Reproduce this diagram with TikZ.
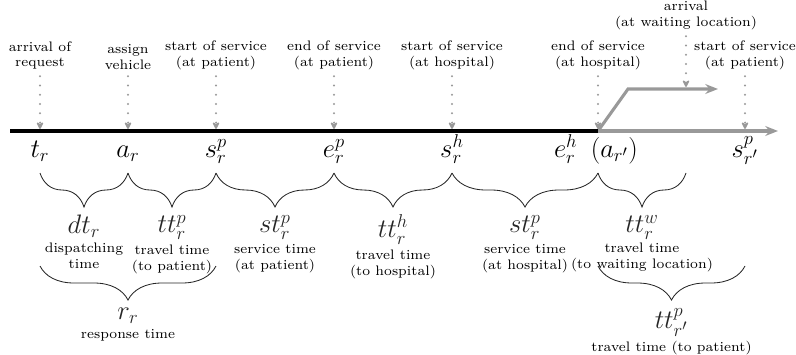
\documentclass[tikz,border=0pt]{standalone}
\usetikzlibrary{arrows.meta,decorations.pathreplacing,positioning}

\tikzset{
  evtext/.style={font=\scriptsize, scale=1.4, align=center, inner sep=1pt, anchor=south},
  evarrow/.style={black!40, line width=1.6pt, line cap=round, dash pattern=on 0pt off 6.6pt,
    -{Stealth[length=6pt,width=6pt,round]}, shorten <=3pt, shorten >=1.5pt},
  mlabel/.style={font=\LARGE, scale=1.1, inner sep=1pt},
  gline/.style={black!40, line width=2.2pt},
  brc/.style={decorate, decoration={brace, mirror, amplitude=0.85cm}, line width=0.6pt, black!85},
  dur/.style={mlabel, midway, below=1cm, anchor=north},
  desc/.style={font=\scriptsize, scale=1.4, align=center, inner sep=0.5pt},
}

\begin{document}
\begin{tikzpicture}[x=0.025cm, y=-0.025cm]
    \useasboundingbox (0,0) rectangle (796,355);
    % Points on the time line
    \coordinate (lstart) at (10,131);
    \coordinate (tr) at (40,131);
    \coordinate (ar) at (128,131);
    \coordinate (spr) at (216,131);
    \coordinate (epr) at (334,131);
    \coordinate (shr) at (452,131);
    \coordinate (ehr) at (598,131);
    \coordinate (spr2) at (745,131);
    \coordinate (lend) at (778,131);
    % Branch to the waiting location
    \coordinate (bend) at (628,89);
    \coordinate (wr) at (686,89);
    \coordinate (wend) at (718,89);

    % Time line
    \draw[gline, -{Stealth[length=9pt,width=7pt]}] (ehr) -- (lend);
    \draw[gline, -{Stealth[length=9pt,width=7pt]}] (ehr) -- (bend) -- (wend);
    \draw[line width=3pt] (lstart) -- (ehr);

    % Events
    \node[evtext] (arr) at (40,72) {arrival of\\request};
    \node[evtext] (asg) at (128,72) {assign\\vehicle};
    \node[evtext] (ssp) at (216,72) {start of service\\(at patient)};
    \node[evtext] (esp) at (334,72) {end of service\\(at patient)};
    \node[evtext] (ssh) at (452,72) {start of service\\(at hospital)};
    \node[evtext] (esh) at (598,72) {end of service\\(at hospital)};
    \node[evtext] (awl) at (686,32) {arrival\\(at waiting location)};
    \node[evtext] (ssp2) at (745,72) {start of service\\(at patient)};
    \draw[evarrow] (arr) -- (tr);
    \draw[evarrow] (asg) -- (ar);
    \draw[evarrow] (ssp) -- (spr);
    \draw[evarrow] (esp) -- (epr);
    \draw[evarrow] (ssh) -- (shr);
    \draw[evarrow] (esh) -- (ehr);
    \draw[evarrow] (awl) -- (wr);
    \draw[evarrow] (ssp2) -- (spr2);

    % Time stamps
    \node[mlabel, anchor=base] (ltr) at (40,157) {$t_r$};
    \node[mlabel, anchor=base] (lar) at (128,157) {$a_r$};
    \node[mlabel, anchor=base] (lspr) at (216,157) {$s^p_r$};
    \node[mlabel, anchor=base] (lepr) at (334,157) {$e^p_r$};
    \node[mlabel, anchor=base] (lshr) at (452,157) {$s^h_r$};
    \node[mlabel, anchor=base] (lehr) at (596,157) {$e^h_r\enspace(a_{r'})$};
    \node[mlabel, anchor=base] (lspr2) at (745,157) {$s^p_{r'}$};

    % Durations
    \draw[brc] (40,173) -- (128,173) node[dur] (dtr) {$dt_r$};
    \draw[brc] (128,173) -- (216,173) node[dur] (ttpr) {$tt^p_r$};
    \draw[brc] (216,173) -- (334,173) node[dur] (stpr) {$st^p_r$};
    \draw[brc] (334,173) -- (452,173) node[dur] (tthr) {$tt^h_r$};
    \draw[brc] (452,173) -- (598,173) node[dur] (sthr) {$st^p_r$};
    \draw[brc] (598,173) -- (686,173) node[dur] (ttwr) {$tt^w_r$};
    \node[desc, below=1.5pt of dtr] {dispatching\\time};
    \node[desc, below=1.5pt of ttpr] {travel time\\(to patient)};
    \node[desc, below=1.5pt of stpr] {service time\\(at patient)};
    \node[desc, below=1.5pt of tthr] {travel time\\(to hospital)};
    \node[desc, below=1.5pt of sthr] {service time\\(at hospital)};
    \node[desc, below=0.5pt of ttwr] {travel time\\(to waiting location)};

    % Response time and next travel time
    \draw[brc] (40,266) -- (216,266) node[dur] (rr) {$r_r$};
    \draw[brc] (598,266) -- (745,266) node[dur] (ttpr2) {$tt^p_{r'}$};
    \node[desc, below=1.5pt of rr] {response time};
    \node[desc, below=1.5pt of ttpr2] {travel time (to patient)};
\end{tikzpicture}
\end{document}
